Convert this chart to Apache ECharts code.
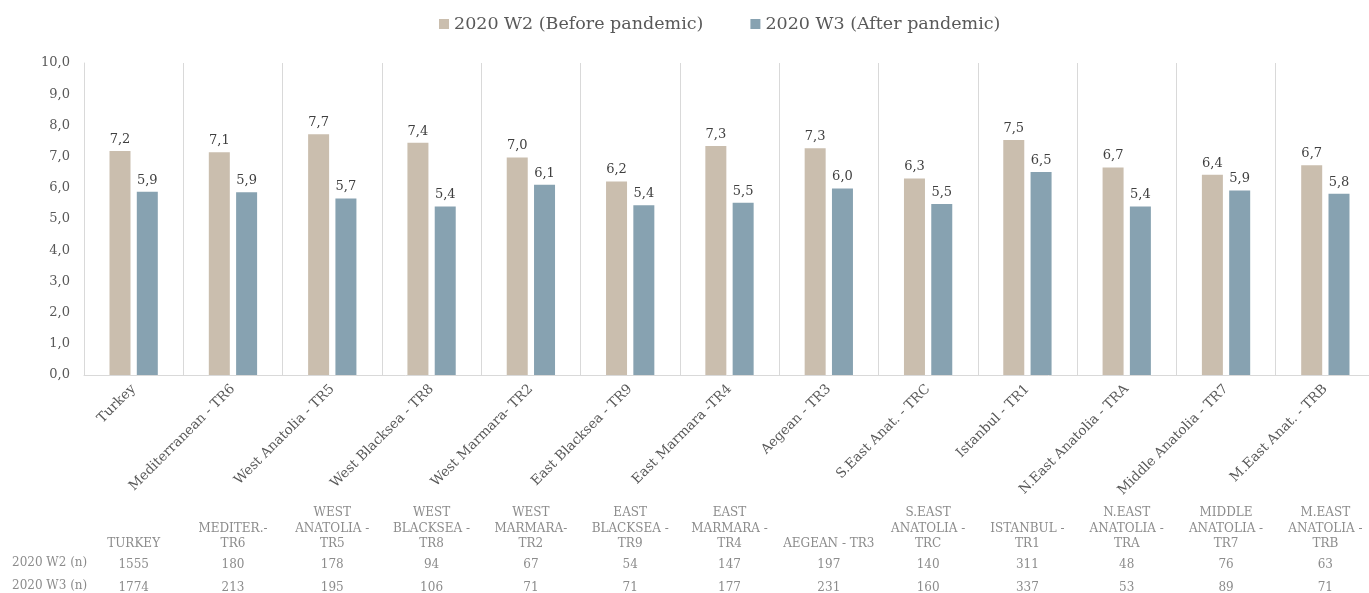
<!DOCTYPE html>
<html>
<head>
<meta charset="utf-8">
<script src="https://cdn.jsdelivr.net/npm/echarts@6/dist/echarts.min.js"></script>
<style>html,body{margin:0;padding:0;background:#fff}#c{width:1369px;height:593px}</style>
</head>
<body>
<div id="c"></div>
<script>
const categories = ["Turkey","Mediterranean - TR6","West Anatolia - TR5","West Blacksea - TR8","West Marmara- TR2","East Blacksea - TR9","East Marmara -TR4","Aegean - TR3","S.East Anat. - TRC","Istanbul - TR1","N.East Anatolia - TRA","Middle Anatolia - TR7","M.East Anat. - TRB"];
const tableHeaders = ["TURKEY","MEDITER.-\nTR6","WEST\nANATOLIA -\nTR5","WEST\nBLACKSEA -\nTR8","WEST\nMARMARA-\nTR2","EAST\nBLACKSEA -\nTR9","EAST\nMARMARA -\nTR4","AEGEAN - TR3","S.EAST\nANATOLIA -\nTRC","ISTANBUL -\nTR1","N.EAST\nANATOLIA -\nTRA","MIDDLE\nANATOLIA -\nTR7","M.EAST\nANATOLIA -\nTRB"];
const seriesNames = ["2020 W2 (Before pandemic)","2020 W3 (After pandemic)"];
const w2Values = [7.18,7.14,7.72,7.44,6.97,6.20,7.34,7.27,6.30,7.53,6.65,6.42,6.72];
const w3Values = [5.87,5.86,5.66,5.40,6.10,5.44,5.52,5.98,5.48,6.51,5.40,5.91,5.81];
const w2N = [1555,180,178,94,67,54,147,197,140,311,48,76,63];
const w3N = [1774,213,195,106,71,71,177,231,160,337,53,89,71];
const rowLabels = ["2020 W2 (n)","2020 W3 (n)"];
const yTicks = {min:0,max:10,interval:1};

const FONT = "DejaVu Serif";
const fmt = v => v.toFixed(1).replace('.', ',');

function tableAxis(data, offset, valign, lh) {
  return {
    type:'category', gridIndex:0, position:'bottom', offset:offset, data:data,
    axisLine:{show:false}, axisTick:{show:false}, splitLine:{show:false},
    axisLabel:{interval:0, margin:0, color:'#8c8c8c', fontFamily:FONT, fontSize:12, lineHeight:lh, verticalAlign:valign, align:'center'}
  };
}

const chart = echarts.init(document.getElementById('c'));
chart.setOption({
  animation:false,
  backgroundColor:'#fff',
  textStyle:{fontFamily:FONT},
  legend:{
    top:10, left:434, itemGap:47, itemWidth:10, itemHeight:10, icon:'rect',
    textStyle:{fontFamily:FONT, fontSize:17.5, color:'#595959'},
    data:seriesNames
  },
  grid:{left:84, top:63, width:1291, height:312, containLabel:false, outerBoundsMode:'none'},
  xAxis:[
    {
      type:'category', data:categories, gridIndex:0,
      axisLine:{show:true, lineStyle:{color:'#d9d9d9'}},
      axisTick:{show:false},
      splitLine:{show:true, lineStyle:{color:'#d9d9d9', width:1}},
      axisLabel:{interval:0, rotate:45, margin:12, color:'#595959', fontFamily:FONT, fontSize:13.5}
    },
    tableAxis(tableHeaders, 177, 'bottom', 15.5),
    tableAxis(w2N.map(String), 190, 'middle', 14),
    tableAxis(w3N.map(String), 213, 'middle', 14)
  ],
  yAxis:{
    type:'value', min:yTicks.min, max:yTicks.max, interval:yTicks.interval,
    axisLine:{show:true, lineStyle:{color:'#d9d9d9'}},
    axisTick:{show:false},
    splitLine:{show:false},
    axisLabel:{formatter:v=>fmt(v), color:'#595959', fontFamily:FONT, fontSize:13, margin:14, padding:[4,0,0,0]}
  },
  graphic:rowLabels.map((t,i)=>({
    type:'text', left:12, top:557+i*23,
    style:{text:t, fill:'#8c8c8c', font:'12px "DejaVu Serif"'}
  })),
  series:[
    {
      name:seriesNames[0], type:'bar', data:w2Values, barWidth:21, barGap:'30%',
      itemStyle:{color:'#cabeae'},
      label:{show:true, position:'top', distance:5, formatter:p=>fmt(p.value), color:'#404040', fontFamily:FONT, fontSize:13}
    },
    {
      name:seriesNames[1], type:'bar', data:w3Values, barWidth:21,
      itemStyle:{color:'#87a2b1'},
      label:{show:true, position:'top', distance:5, formatter:p=>fmt(p.value), color:'#404040', fontFamily:FONT, fontSize:13}
    }
  ]
});
</script>
</body>
</html>
